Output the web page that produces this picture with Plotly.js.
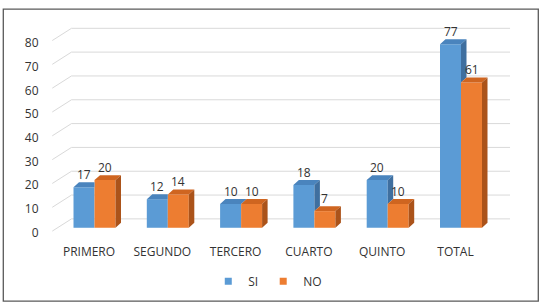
<!DOCTYPE html>
<html>
<head>
<meta charset="utf-8">
<script src="https://cdn.plot.ly/plotly-3.0.1.min.js"></script>
<style>
  html, body { margin: 0; padding: 0; background: #ffffff; }
  #chart { width: 544px; height: 308px; }
</style>
</head>
<body>
<div id="chart"></div>
<script>
// Students per grade answering SI / NO
const categories = ['PRIMERO', 'SEGUNDO', 'TERCERO', 'CUARTO', 'QUINTO', 'TOTAL'];
const siValues = [17, 12, 10, 18, 20, 77];
const noValues = [20, 14, 10, 7, 10, 61];
const seriesNames = ['SI', 'NO'];
const yTicks = [0, 10, 20, 30, 40, 50, 60, 70, 80];

// Colours: front, top and side faces of each series
const SI_FRONT = '#5b9bd5', SI_TOP = '#4a84bd', SI_SIDE = '#3f6f9f';
const NO_FRONT = '#ed7d31', NO_TOP = '#cf6520', NO_SIDE = '#ab531a';
const TEXT = '#333333';
const FONT = 'Open Sans, Noto Sans, sans-serif';
const FS = 12;

// Layout geometry (data units)
const BARGAP = 0.427;
const W = (1 - BARGAP) / 2;       // width of one bar
const DX = 0.075, DY = 2.08;      // depth offset of the 3-D look
const WALL_LIFT = 3.73;           // back wall sits above the bar floor
const FLOOR_DROP = 1.4;           // front edge of floor lines
const FLOOR_X0 = -0.576, WALL_X0 = -0.314, WALL_X1 = 5.669;
const LABEL_SHIFT = 0.075;        // category labels sit on the front plane

const idx = categories.map((_, i) => i);

// Polygons for the top and side faces, built from the bar values
function topFace(x0, x1, v) {
  return [[x0, v], [x1, v], [x1 + DX, v + DY], [x0 + DX, v + DY], [x0, v]];
}
function sideFace(x1, lo, hi) {
  return [[x1, lo], [x1, hi], [x1 + DX, hi + DY], [x1 + DX, lo + DY], [x1, lo]];
}
function polyTrace(polys, color) {
  const xs = [], ys = [];
  polys.forEach(p => { p.forEach(pt => { xs.push(pt[0]); ys.push(pt[1]); }); xs.push(null); ys.push(null); });
  return {
    type: 'scatter', mode: 'lines', x: xs, y: ys, fill: 'toself',
    fillcolor: color, line: { width: 0, color: color },
    hoverinfo: 'skip', showlegend: false
  };
}

const siTops = [], siSides = [], noTops = [], noSides = [];
idx.forEach(i => {
  const s = siValues[i], n = noValues[i];
  // SI bar spans [i - W, i], NO bar spans [i, i + W]
  if (n > s) {
    // the taller NO front hides the back-right corner of the SI top
    siTops.push([[i - W, s], [i, s], [i, s + DY], [i - W + DX, s + DY], [i - W, s]]);
  } else {
    siTops.push(topFace(i - W, i, s));
  }
  if (s > n) siSides.push(sideFace(i, n, s));
  noTops.push(topFace(i, i + W, n));
  noSides.push(sideFace(i + W, 0, n));
});

const traces = [
  { type: 'bar', name: seriesNames[0], x: idx, y: siValues, marker: { color: SI_FRONT },
    hoverinfo: 'y', showlegend: false },
  { type: 'bar', name: seriesNames[1], x: idx, y: noValues, marker: { color: NO_FRONT },
    hoverinfo: 'y', showlegend: false },
  polyTrace(siTops, SI_TOP),
  polyTrace(siSides, SI_SIDE),
  polyTrace(noTops, NO_TOP),
  polyTrace(noSides, NO_SIDE),
  // legend entries
  { type: 'scatter', mode: 'markers', name: seriesNames[0], x: [null], y: [null], yaxis: 'y2',
    marker: { symbol: 'square', size: 7, color: SI_FRONT } },
  { type: 'scatter', mode: 'markers', name: seriesNames[1], x: [null], y: [null], yaxis: 'y2',
    marker: { symbol: 'square', size: 7, color: NO_FRONT } }
];

// Back wall gridlines and the floor diagonals leading to them
const shapes = [];
yTicks.forEach(v => {
  shapes.push({ type: 'line', xref: 'x', yref: 'y', layer: 'below',
    x0: WALL_X0, x1: WALL_X1, y0: v + WALL_LIFT, y1: v + WALL_LIFT,
    line: { color: '#d9d9d9', width: 1 } });
  shapes.push({ type: 'line', xref: 'x', yref: 'y', layer: 'below',
    x0: FLOOR_X0, x1: WALL_X0, y0: v - FLOOR_DROP, y1: v + WALL_LIFT,
    line: { color: '#d9d9d9', width: 1 } });
});
// Chart frame
const ML = 45, MR = 30, MT = 14, MB = 72;
const PW = 544 - ML - MR, PH = 308 - MT - MB;
shapes.push({ type: 'rect', xref: 'paper', yref: 'paper', layer: 'above',
  x0: (3.3 - ML) / PW, x1: (538.3 - ML) / PW,
  y0: (308 - MB - 305) / PH, y1: (308 - MB - 9) / PH,
  line: { color: '#5a5a5a', width: 1.3 }, fillcolor: 'rgba(0,0,0,0)' });

// Value labels above each bar
const annotations = [];
idx.forEach(i => {
  annotations.push({ xref: 'x', yref: 'y', x: i - W / 2, y: siValues[i], text: String(siValues[i]),
    showarrow: false, yanchor: 'bottom', yshift: 2, font: { family: FONT, size: FS, color: TEXT } });
  annotations.push({ xref: 'x', yref: 'y', x: i + W / 2, y: noValues[i], text: String(noValues[i]),
    showarrow: false, yanchor: 'bottom', yshift: 2, font: { family: FONT, size: FS, color: TEXT } });
});

const PX_PER_CAT = 73.3;
const xMin = -(94.5 - ML) / PX_PER_CAT;
const yScale = 2.415, yScale2 = 2.401;
const yLo = -(308 - MB - 230.7) / yScale;
const y2Lo = -(308 - MB - 235.5) / yScale2;

const layout = {
  width: 544, height: 308,
  margin: { l: ML, r: MR, t: MT, b: MB },
  paper_bgcolor: '#ffffff', plot_bgcolor: '#ffffff',
  font: { family: FONT, size: FS, color: TEXT },
  barmode: 'group', bargap: BARGAP, bargroupgap: 0,
  showlegend: true,
  legend: { orientation: 'h', x: 0.475, xanchor: 'center', y: (308 - MB - 285) / PH, yanchor: 'middle',
    font: { family: FONT, size: FS, color: TEXT }, itemwidth: 30, tracegroupgap: 0 },
  xaxis: {
    range: [xMin, xMin + PW / PX_PER_CAT],
    tickmode: 'array', tickvals: idx.map(i => i - LABEL_SHIFT), ticktext: categories,
    ticks: 'outside', ticklen: 8, tickcolor: 'rgba(0,0,0,0)',
    showgrid: false, zeroline: false, showline: false, fixedrange: true
  },
  yaxis: {
    range: [yLo, yLo + PH / yScale],
    showticklabels: false, showgrid: false, zeroline: false, showline: false, ticks: '', fixedrange: true
  },
  yaxis2: {
    overlaying: 'y', anchor: 'x', side: 'left',
    range: [y2Lo, y2Lo + PH / yScale2],
    tickmode: 'array', tickvals: yTicks,
    ticks: 'outside', ticklen: 3, tickcolor: 'rgba(0,0,0,0)',
    showgrid: false, zeroline: false, showline: false, fixedrange: true
  },
  shapes: shapes,
  annotations: annotations
};

Plotly.newPlot('chart', traces, layout, { displayModeBar: false, staticPlot: true });
</script>
</body>
</html>
